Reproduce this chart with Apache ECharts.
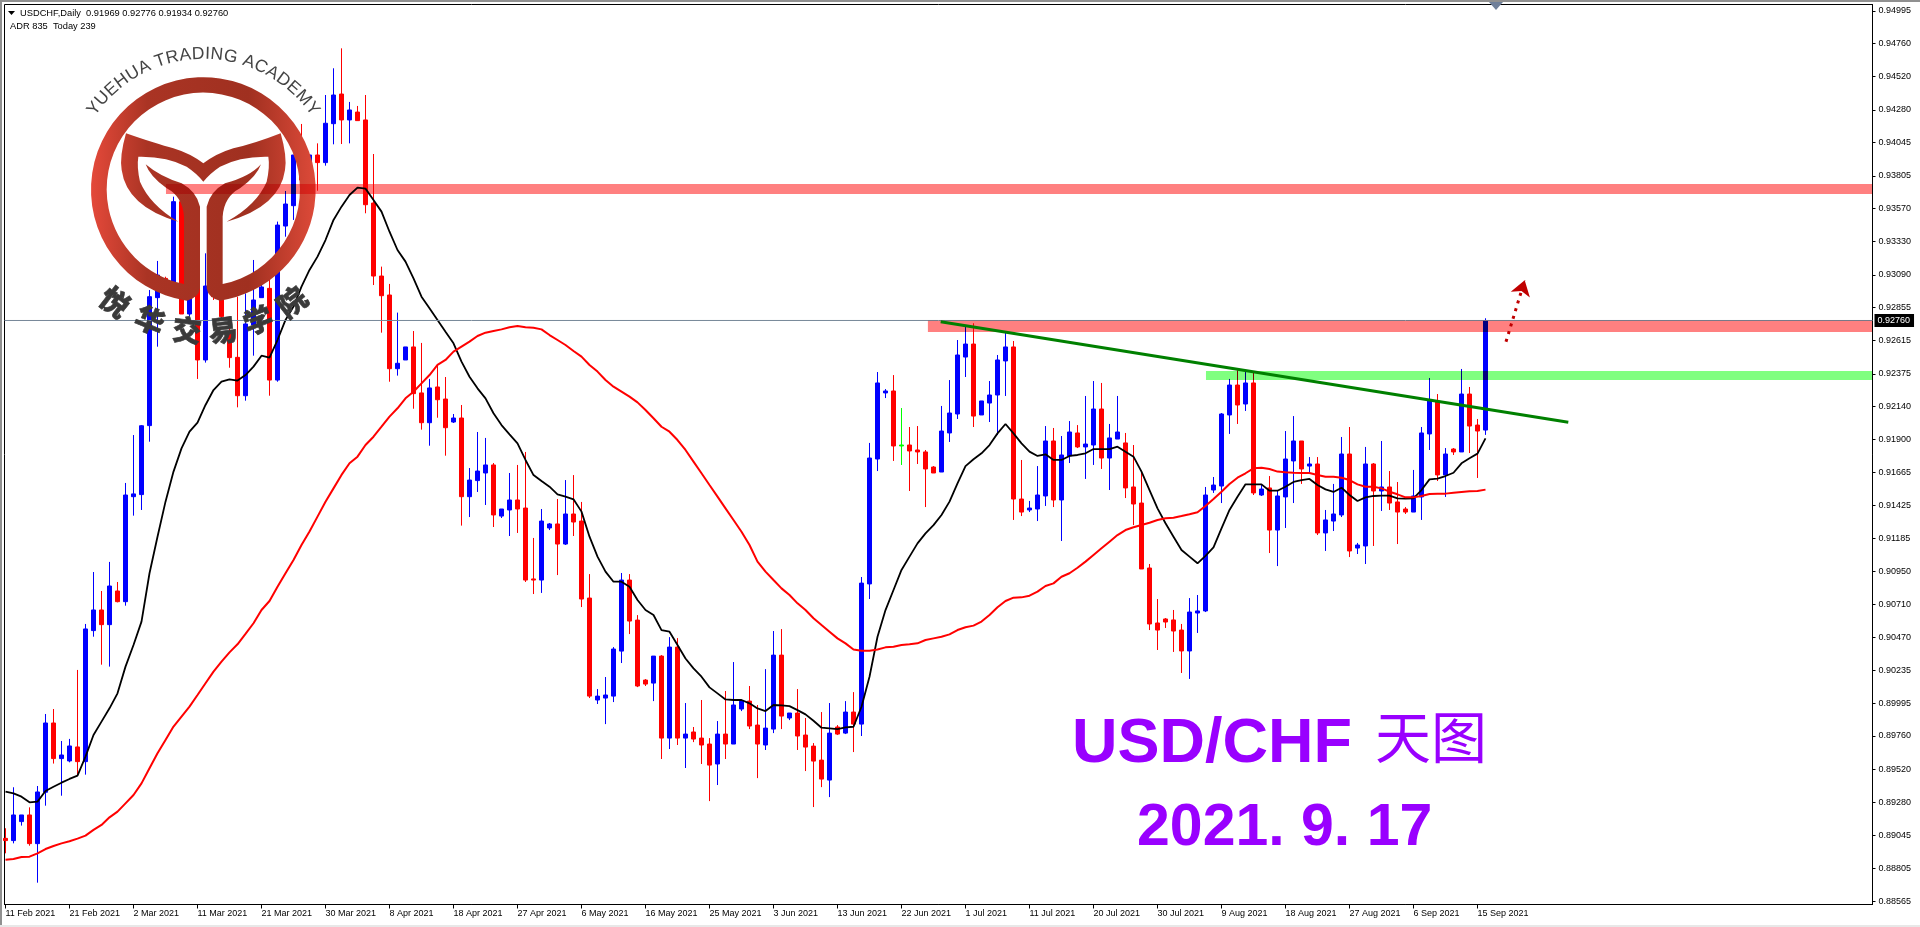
<!DOCTYPE html>
<html><head><meta charset="utf-8">
<script src="https://cdn.jsdelivr.net/npm/echarts@6/dist/echarts.min.js"></script>
<style>html,body{margin:0;padding:0;background:#fff}#c{width:1920px;height:927px}</style>
</head><body><div id="c"></div>
<script>
const opens=[.89021,.89005,.89142,.89190,.88983,.89354,.89854,.89597,.89580,.89681,
.89575,.90521,.90670,.90564,.90807,.90730,.91488,.91503,.92001,.92925,
.93064,.93028,.93618,.92807,.93004,.92475,.93197,.92908,.92667,.92494,
.92217,.92727,.92925,.92992,.92330,.93442,.93589,.93955,.93678,.93955,
.93900,.94181,.94395,.94208,.94265,.94208,.93608,.93081,.92944,.92412,
.92475,.92569,.92237,.92022,.92280,.92193,.92027,.92056,.91488,.91604,
.91659,.91717,.91348,.91392,.91464,.91406,.90894,.90886,.91262,.91291,
.91146,.91363,.91312,.90756,.90020,.90034,.90048,.90373,.90886,.90597,
.90164,.90142,.90337,.89745,.90402,.89745,.89789,.89745,.89702,.89558,
.89774,.89702,.89955,.90012,.89839,.89695,.89810,.90344,.89890,.89926,
.89767,.89687,.89586,.89442,.89825,.89781,.89933,.89846,.90858,.91760,
.92237,.92251,.91861,.91861,.91825,.91811,.91702,.91666,.91948,.92085,
.92496,.92590,.92078,.92164,.92222,.92468,.92569,.91471,.91392,.91399,
.91493,.91890,.91464,.91782,.91948,.91847,.91861,.92121,.91767,.91904,
.91876,.91558,.91442,.90973,.90576,.90605,.90598,.90525,.90374,.90648,
.90663,.91536,.91565,.92078,.92294,.92157,.92309,.91500,.91551,.91247,
.91486,.91746,.91890,.91709,.91724,.91226,.91312,.91356,.91796,.91117,
.91132,.91724,.91529,.91558,.91450,.91399,.91377,.91486,.91941,.92179,
.91645,.91832,.91811,.92229,.92005,.91969];
const closes=[.89005,.89190,.89190,.88983,.89356,.89854,.89597,.89623,.89688,.89575,
.90533,.90670,.90564,.90843,.90730,.91500,.91508,.92000,.92932,.93088,
.92968,.93618,.92807,.93149,.92475,.93009,.92932,.92788,.92492,.92217,
.92735,.92908,.93002,.92330,.93449,.93601,.93955,.93774,.93955,.93900,
.94184,.94388,.94208,.94280,.94203,.93596,.93081,.92939,.92412,.92451,
.92569,.92232,.92022,.92273,.92188,.91986,.92056,.91488,.91608,.91673,
.91717,.91356,.91399,.91464,.91399,.90886,.90886,.91312,.91291,.91146,
.91363,.91305,.90749,.90048,.90048,.90056,.90388,.90886,.90590,.90121,
.90135,.90337,.89745,.90402,.89745,.89774,.89738,.89695,.89550,.89774,
.89702,.89984,.90012,.89832,.89702,.89817,.90344,.89904,.89926,.89760,
.89680,.89579,.89449,.89781,.89774,.89933,.89846,.90864,.91767,.92309,
.92251,.91854,.91854,.91818,.91811,.91688,.91659,.91962,.92092,.92511,
.92590,.92070,.92179,.92222,.92475,.92569,.91471,.91377,.91406,.91500,
.91890,.91464,.91789,.91955,.91847,.91868,.92121,.91767,.91912,.91955,
.91551,.91435,.90966,.90569,.90525,.90583,.90518,.90374,.90655,.90663,
.91500,.91572,.92085,.92294,.92150,.92309,.91515,.91543,.91247,.91493,
.91760,.91890,.91688,.91724,.91226,.91320,.91363,.91796,.91096,.91139,
.91724,.91529,.91558,.91442,.91377,.91377,.91493,.91948,.92179,.91645,
.91796,.91811,.92229,.91998,.91962,.92760];
const highs=[.89094,.89390,.89190,.89245,.89399,.89919,.89955,.89724,.89739,.90237,
.90569,.90944,.90807,.91017,.90872,.91587,.91933,.92005,.92980,.93190,
.93076,.93654,.93630,.93389,.93028,.93245,.93245,.92956,.92788,.92932,
.92956,.93197,.93076,.93052,.93474,.93695,.93955,.94179,.93955,.94039,
.94388,.94581,.94725,.94338,.94309,.94388,.93962,.93149,.93024,.92817,
.92569,.92684,.92598,.92338,.92439,.92352,.92085,.92150,.91695,.91955,
.91912,.91731,.91399,.91659,.91717,.91811,.91190,.91399,.91298,.91471,
.91608,.91644,.91450,.90929,.90099,.90186,.90402,.90937,.90929,.90633,
.90171,.90337,.90344,.90474,.90467,.89998,.89825,.90020,.89745,.89868,
.90085,.90294,.90012,.90121,.89984,.90243,.90518,.90532,.89926,.90099,
.89890,.89709,.89933,.89998,.89839,.90012,.90077,.90908,.91876,.92388,
.92265,.92366,.92128,.91991,.91998,.91825,.91709,.92143,.92330,.92619,
.92715,.92740,.92179,.92323,.92511,.92679,.92612,.91753,.91457,.91709,
.91998,.91984,.91926,.92034,.92005,.92215,.92323,.92309,.92013,.92215,
.91948,.91861,.91659,.91002,.90749,.90612,.90670,.90569,.90756,.90778,
.91558,.91630,.92092,.92338,.92403,.92403,.92381,.91572,.91637,.91536,
.91962,.92070,.91890,.91774,.91774,.91392,.91580,.91919,.91991,.91154,
.91847,.91731,.91890,.91673,.91594,.91413,.91681,.91991,.92345,.92229,
.91839,.91839,.92410,.92280,.92049,.92776];
const lows=[.88913,.88985,.89113,.88968,.88701,.89257,.89561,.89329,.89570,.89479,
.89481,.90477,.90275,.90261,.90725,.90701,.91351,.91392,.91885,.92571,
.92956,.93004,.92807,.92792,.92338,.92456,.92908,.92764,.92419,.92133,
.92181,.92506,.92925,.92217,.92318,.93365,.93486,.93702,.93630,.93697,
.93878,.94032,.94034,.94039,.94203,.93534,.93016,.92672,.92318,.92362,
.92475,.92123,.91972,.91856,.92058,.91784,.92020,.91279,.91341,.91522,
.91428,.91269,.91334,.91204,.91226,.90872,.90785,.90793,.91247,.90922,
.91139,.91204,.90691,.90034,.89991,.89846,.90005,.90287,.90496,.90113,
.90121,.90012,.89594,.89666,.89695,.89529,.89716,.89558,.89290,.89406,
.89594,.89702,.89940,.89810,.89456,.89659,.89781,.89810,.89875,.89659,
.89507,.89247,.89391,.89319,.89767,.89774,.89644,.89760,.90749,.91673,
.92200,.91746,.91717,.91529,.91724,.91413,.91659,.91666,.91883,.92049,
.92352,.91991,.92078,.92027,.91933,.92215,.91320,.91348,.91377,.91312,
.91421,.91413,.91168,.91731,.91839,.91616,.91717,.91688,.91536,.91904,
.91478,.91283,.90966,.90525,.90381,.90540,.90367,.90215,.90172,.90504,
.90655,.91515,.91442,.91941,.92013,.92107,.91500,.91493,.91081,.90987,
.91262,.91442,.91580,.91666,.91211,.91096,.91240,.91341,.91052,.91074,
.91002,.91132,.91385,.91392,.91146,.91363,.91377,.91320,.91825,.91601,
.91486,.91789,.91811,.91803,.91623,.91934];
const maFast=[.89358,.89346,.89322,.89281,.89286,.89363,.89394,.89423,.89450,.89474,
.89611,.89767,.89864,.89960,.90068,.90261,.90417,.90586,.90935,.91199,
.91452,.91669,.91837,.91957,.92022,.92150,.92258,.92318,.92335,.92326,
.92366,.92427,.92506,.92492,.92619,.92764,.92860,.93004,.93125,.93221,
.93341,.93486,.93582,.93666,.93719,.93712,.93630,.93546,.93401,.93269,
.93185,.93064,.92932,.92848,.92764,.92679,.92595,.92463,.92354,.92270,
.92198,.92090,.92005,.91938,.91873,.91753,.91644,.91601,.91560,.91505,
.91488,.91469,.91380,.91199,.91055,.90947,.90874,.90874,.90838,.90742,
.90670,.90634,.90525,.90513,.90417,.90320,.90248,.90188,.90111,.90068,
.90024,.90020,.90020,.89996,.89959,.89940,.89984,.89981,.89976,.89947,
.89916,.89870,.89820,.89815,.89810,.89822,.89827,.89971,.90188,.90477,
.90669,.90814,.90959,.91055,.91151,.91223,.91283,.91356,.91452,.91584,
.91709,.91758,.91801,.91861,.91945,.92013,.91945,.91873,.91813,.91782,
.91794,.91753,.91753,.91782,.91789,.91801,.91832,.91832,.91832,.91849,
.91813,.91777,.91669,.91536,.91404,.91296,.91199,.91103,.91055,.91007,
.91060,.91122,.91259,.91392,.91488,.91577,.91577,.91577,.91531,.91531,
.91560,.91594,.91608,.91616,.91572,.91541,.91522,.91553,.91500,.91457,
.91483,.91493,.91495,.91495,.91476,.91474,.91476,.91536,.91613,.91618,
.91637,.91661,.91729,.91765,.91799,.91909];
const maSlow=[.88867,.88872,.88887,.88889,.88913,.88944,.88966,.88985,.89000,.89019,
.89041,.89082,.89118,.89173,.89214,.89274,.89334,.89418,.89527,.89635,
.89731,.89828,.89900,.89972,.90056,.90141,.90225,.90297,.90364,.90422,
.90497,.90574,.90670,.90735,.90838,.90935,.91031,.91139,.91236,.91344,
.91452,.91548,.91645,.91729,.91777,.91861,.91921,.91993,.92066,.92126,
.92198,.92246,.92306,.92366,.92439,.92475,.92535,.92571,.92607,.92648,
.92672,.92684,.92696,.92711,.92720,.92711,.92708,.92696,.92655,.92619,
.92583,.92540,.92499,.92439,.92391,.92330,.92282,.92246,.92210,.92169,
.92114,.92054,.91993,.91957,.91897,.91825,.91741,.91657,.91572,.91488,
.91404,.91320,.91235,.91139,.91019,.90947,.90886,.90826,.90778,.90718,
.90670,.90610,.90561,.90513,.90465,.90429,.90385,.90376,.90376,.90385,
.90400,.90405,.90417,.90422,.90429,.90453,.90465,.90477,.90494,.90525,
.90545,.90557,.90586,.90634,.90689,.90735,.90759,.90761,.90773,.90802,
.90843,.90862,.90910,.90935,.90975,.91019,.91067,.91115,.91163,.91211,
.91247,.91267,.91283,.91300,.91320,.91332,.91336,.91348,.91361,.91375,
.91421,.91471,.91524,.91580,.91625,.91657,.91693,.91697,.91688,.91669,
.91664,.91661,.91659,.91659,.91645,.91632,.91632,.91625,.91608,.91577,
.91560,.91560,.91548,.91524,.91505,.91483,.91483,.91493,.91507,.91510,
.91510,.91517,.91522,.91527,.91529,.91539];
const dateLabels=['11 Feb 2021','21 Feb 2021','2 Mar 2021','11 Mar 2021','21 Mar 2021','30 Mar 2021','8 Apr 2021','18 Apr 2021','27 Apr 2021','6 May 2021','16 May 2021','25 May 2021','3 Jun 2021','13 Jun 2021','22 Jun 2021','1 Jul 2021','11 Jul 2021','20 Jul 2021','30 Jul 2021','9 Aug 2021','18 Aug 2021','27 Aug 2021','6 Sep 2021','15 Sep 2021'];
const dateBarStep=8;
const priceTicks=[.94995,.94760,.94520,.94280,.94045,.93805,.93570,.93330,.93090,.92855,.92615,.92375,.92140,.91900,.91665,.91425,.91185,.90950,.90710,.90470,.90235,.89995,.89760,.89520,.89280,.89045,.88805,.88565];
const lastPrice=.92760;
const xMin=-0.125,xMax=233.375;
const limeBar=112;
const zoneStart=[20.06,115.3,150.06];
const zoneEnd=[233.375,233.375,233.375];
const zoneTop=[.93746,.92759,.92395];
const zoneBottom=[.93673,.92677,.92330];
const zoneColors=['#ff8080','#ff8080','#80ff80'];
const trendX=[116.9,195.35];
const trendY=[.92751,.92025];
const arrowX=[187.56,189.9];
const arrowY=[.92607,.93050];
const headerLine1='USDCHF,Daily  0.91969 0.92776 0.91934 0.92760';
const headerLine2='ADR 835  Today 239';
const logoName='YUEHUA TRADING ACADEMY';
const logoCn=['悦','华','交','易','学','院'];

const xIdx=opens.map((_,i)=>i);
const candle=xIdx.map(i=>{
  const v=[i,opens[i],closes[i],lows[i],highs[i]];
  return i===limeBar?{value:v,itemStyle:{color:'#00ff00',color0:'#00ff00',borderColor:'#00ff00',borderColor0:'#00ff00'}}:v;
});
const tickIdx=dateLabels.map((_,i)=>i*dateBarStep);
const F='"Liberation Sans",Arial,sans-serif';

const ringPath='M560,902 A337,337 0 1 1 660,902 Q625,895 620,865 L620,620 Q630,575 675,550 Q750,530 783,493 Q770,530 720,565 Q672,590 668,650 L668,852 A290,290 0 1 0 552,852 L552,650 Q548,590 500,565 Q450,530 437,493 Q480,530 545,550 Q590,575 600,620 L600,865 Q595,895 560,902 Z';
const tulipPath='M378,400 Q470,432 520,445 Q570,460 610,490 Q650,460 700,445 Q760,432 842,400 Q862,470 855,510 Q840,620 680,665 Q770,615 800,545 Q810,500 805,470 Q720,468 660,500 Q630,520 610,545 Q590,520 560,500 Q500,468 415,470 Q410,500 420,545 Q450,615 535,665 Q380,620 365,510 Q358,470 378,400 Z';
echarts.graphic.registerShape('logoRing',echarts.graphic.extendPath(ringPath,{}));
echarts.graphic.registerShape('logoTulip',echarts.graphic.extendPath(tulipPath,{}));
const logoFill={type:'linear',global:true,x:273,y:0,x2:947,y2:0,colorStops:[{offset:0,color:'#e4493a'},{offset:.25,color:'#aa3424'},{offset:.7,color:'#a03020'},{offset:1,color:'#dd4a39'}]};

const mctx=document.createElement('canvas').getContext('2d');
const arcFont='17.5px '+F;mctx.font=arcFont;
const arcW=[...logoName].map(c=>mctx.measureText(c).width);
const arcTotal=arcW.reduce((a,b)=>a+b,0);
const cx=203.3,cy=190,arcR=127;
let run=-arcTotal/2;
const arcEls=[...logoName].map((c,k)=>{
  const a=(run+arcW[k]/2)/arcR;run+=arcW[k];
  return {type:'text',z:6,x:cx+arcR*Math.sin(a),y:cy-arcR*Math.cos(a),rotation:-a,
    style:{text:c,font:arcFont,fill:'#444444',align:'center',verticalAlign:'bottom'}};
});
const cnPos=[[115,302,38],[150,320,22],[187,330,7],[223,330,-7],[258,320,-22],[292,302,-38]];
const cnEls=logoCn.map((c,k)=>({type:'text',z:6,x:cnPos[k][0],y:cnPos[k][1],rotation:-cnPos[k][2]*Math.PI/180,
  style:{text:c,font:'900 29px "Noto Sans CJK SC"',fill:'#3a3a3a',stroke:'#3a3a3a',lineWidth:.6,align:'center',verticalAlign:'middle'}}));

const chart=echarts.init(document.getElementById('c'),null,{renderer:'canvas',width:1920,height:927});
chart.setOption({
  animation:false,
  backgroundColor:'#fff',
  grid:{left:4.5,top:4.5,width:1868,height:900,show:true,borderColor:'#000',borderWidth:1,backgroundColor:'transparent'},
  xAxis:{type:'value',min:xMin,max:xMax,
    axisLine:{show:true,onZero:false,lineStyle:{color:'#000',width:1}},
    axisTick:{show:true,length:4,customValues:tickIdx,lineStyle:{color:'#000'}},
    axisLabel:{show:true,customValues:tickIdx,align:'left',verticalAlign:'top',margin:5,color:'#000',fontFamily:F,fontSize:9,
      formatter:v=>dateLabels[Math.round(v/dateBarStep)]||''},
    splitLine:{show:false}},
  yAxis:{type:'value',position:'right',min:.885435,max:.950415,scale:true,
    axisLine:{show:true,onZero:false,lineStyle:{color:'#000',width:1}},
    axisTick:{show:true,length:3,customValues:priceTicks,lineStyle:{color:'#000'}},
    axisLabel:{show:true,customValues:priceTicks,margin:6,align:'left',color:'#000',fontFamily:F,fontSize:9,
      formatter:v=>v.toFixed(5)},
    splitLine:{show:false}},
  series:[
    {type:'candlestick',name:'USDCHF',z:2,barWidth:5,clip:true,encode:{x:0,y:[1,2,3,4]},data:candle,
      itemStyle:{color:'#0000ff',color0:'#ff0000',borderColor:'#0000ff',borderColor0:'#ff0000',borderWidth:1}},
    {type:'line',name:'MA fast',z:3,showSymbol:false,symbol:'none',smooth:false,data:xIdx.map(i=>[i,maFast[i]]),lineStyle:{color:'#000',width:1.8}},
    {type:'line',name:'MA slow',z:3,showSymbol:false,symbol:'none',smooth:false,data:xIdx.map(i=>[i,maSlow[i]]),lineStyle:{color:'#ff0000',width:2}},
    {type:'line',name:'last price',z:4,showSymbol:false,symbol:'none',data:[[xMin,lastPrice],[xMax,lastPrice]],lineStyle:{color:'#778899',width:1},
      endLabel:{show:true,distance:2,formatter:()=>lastPrice.toFixed(5),color:'#fff',backgroundColor:'#000',padding:[2,4,2,3],fontFamily:F,fontSize:9}},
    {type:'custom',name:'zones',z:10,clip:true,blendMode:'multiply',encode:{x:[0,1],y:[2,3]},
      data:zoneStart.map((s,i)=>[s,zoneEnd[i],zoneTop[i],zoneBottom[i],i]),
      renderItem:(p,api)=>{
        const a=api.coord([api.value(0),api.value(2)]),b=api.coord([api.value(1),api.value(3)]);
        return {type:'rect',shape:{x:a[0],y:a[1],width:b[0]-a[0],height:b[1]-a[1]},
          style:{fill:zoneColors[api.value(4)]}};
      }},
    {type:'line',name:'trend',z:11,showSymbol:false,symbol:'none',data:trendX.map((x,i)=>[x,trendY[i]]),lineStyle:{color:'#008000',width:3},
      markLine:{silent:true,z:12,animation:false,label:{show:false},lineStyle:{color:'#c00000',width:3,type:[3,5]},
        data:[[{coord:[arrowX[0],arrowY[0]],symbol:'none'},{coord:[arrowX[1],arrowY[1]],symbol:'arrow',symbolSize:15}]]}}
  ],
  graphic:{elements:[
    {type:'rect',z:20,shape:{x:0,y:0,width:1920,height:2},style:{fill:'#909090'}},
    {type:'rect',z:20,shape:{x:0,y:0,width:2,height:925},style:{fill:'#909090'}},
    {type:'rect',z:20,shape:{x:0,y:925,width:1920,height:2},style:{fill:'#e8e8e8'}},
    {type:'polygon',z:20,shape:{points:[[8,11],[15,11],[11.5,15]]},style:{fill:'#000'}},
    {type:'polygon',z:20,shape:{points:[[1489,2],[1503,2],[1496,10]]},style:{fill:'#6f7f99'}},
    {type:'text',z:20,x:20,y:13,style:{text:headerLine1,font:'9.3px '+F,fill:'#000',verticalAlign:'middle'}},
    {type:'text',z:20,x:10,y:26,style:{text:headerLine2,font:'9.3px '+F,fill:'#000',verticalAlign:'middle'}},
    {type:'group',scaleX:1/3,scaleY:1/3,children:[
      {type:'logoRing',z:6,style:{fill:logoFill}},
      {type:'logoTulip',z:6,style:{fill:logoFill}}
    ]},
    ...arcEls,...cnEls,
    {type:'text',z:20,x:1072,y:713,style:{text:'USD/CHF',font:'bold 63px '+F,fill:'#9900ff',verticalAlign:'top'}},
    {type:'text',z:20,x:1375,y:709,style:{text:'天图',font:'56px "Noto Sans CJK SC"',fill:'#9900ff',verticalAlign:'top'}},
    {type:'text',z:20,x:1137,y:799,style:{text:'2021. 9. 17',font:'bold 59px '+F,fill:'#9900ff',verticalAlign:'top'}}
  ]}
});
</script></body></html>
